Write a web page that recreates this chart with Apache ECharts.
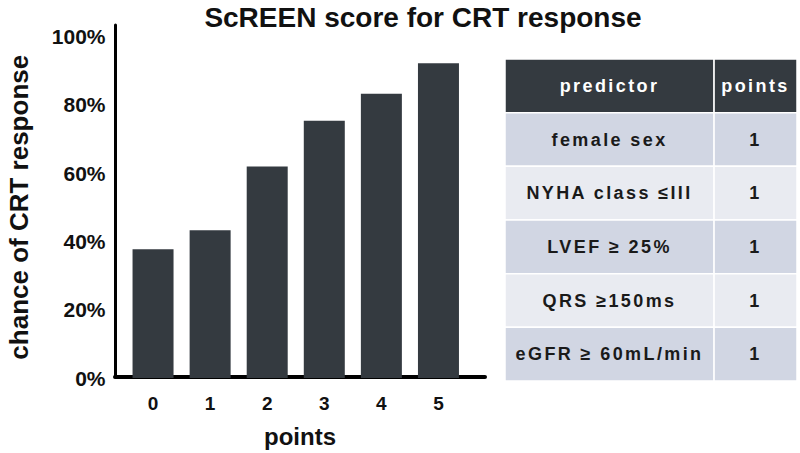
<!DOCTYPE html>
<html>
<head>
<meta charset="utf-8">
<script src="https://cdn.jsdelivr.net/npm/echarts@6/dist/echarts.min.js"></script>
<style>
html,body{margin:0;padding:0;background:#fff;}
#chart{width:800px;height:453px;}
</style>
</head>
<body>
<div id="chart"></div>
<script>
// ---- data ----
var titleText = 'ScREEN score for CRT response';
var categories = ['0', '1', '2', '3', '4', '5'];
var responseRates = [37.7, 43.3, 61.9, 75.3, 83.2, 92.2];
var yTicks = [0, 20, 40, 60, 80, 100];
var xAxisName = 'points';
var yAxisName = 'chance of CRT response';
var tableHeader = ['predictor', 'points'];
var predictors = ['female sex', 'NYHA class \u2264III', 'LVEF \u2265 25%', 'QRS \u2265150ms', 'eGFR \u2265 60mL/min'];
var predictorPoints = [1, 1, 1, 1, 1];

// ---- styles ----
var FONT = "'Liberation Sans', Arial, sans-serif";
var barColor = '#343a40';
var headerColor = '#343a40';
var rowDark = '#d1d6e3';
var rowLight = '#e9ebf1';
var colSplit = 0.716;

var tableRows = [tableHeader].concat(predictors.map(function (p, i) { return [p, String(predictorPoints[i])]; }));

var chart = echarts.init(document.getElementById('chart'), null, { renderer: 'svg' });

var option = {
  animation: false,
  backgroundColor: '#ffffff',
  title: {
    text: titleText,
    left: 418,
    top: -2,
    textAlign: 'center',
    textStyle: { fontFamily: FONT, fontWeight: 'bold', fontSize: 28, color: '#111' }
  },
  grid: [
    { left: 124.5, right: 333, top: 36.5, bottom: 75 },      // bars
    { left: 115, right: 315, top: 25, bottom: 76 },           // axis frame
    { left: 505, right: 3, top: 59, bottom: 72 }              // table
  ],
  xAxis: [
    {
      gridIndex: 0, type: 'category', data: categories,
      axisLine: { show: false }, axisTick: { show: false },
      axisLabel: { fontFamily: FONT, fontWeight: 'bold', fontSize: 19, color: '#111', margin: 16 }
    },
    {
      gridIndex: 1, type: 'value', min: 0, max: 1,
      axisLine: { show: true, lineStyle: { color: '#000', width: 4 } },
      axisTick: { show: false }, axisLabel: { show: false }, splitLine: { show: false },
      name: xAxisName, nameLocation: 'middle', nameGap: 47,
      nameTextStyle: { fontFamily: FONT, fontWeight: 'bold', fontSize: 24, color: '#111' }
    },
    { gridIndex: 2, type: 'value', min: 0, max: 1, show: false }
  ],
  yAxis: [
    {
      gridIndex: 0, type: 'value', min: 0, max: 100, interval: 20,
      axisLine: { show: false }, axisTick: { show: false }, splitLine: { show: false },
      axisLabel: {
        fontFamily: FONT, fontWeight: 'bold', fontSize: 21, color: '#111', margin: 19,
        formatter: function (v) { return yTicks.indexOf(v) >= 0 ? v + '%' : ''; }
      },
      name: yAxisName, nameLocation: 'middle', nameGap: 93, nameRotate: 90,
      nameTextStyle: { fontFamily: FONT, fontWeight: 'bold', fontSize: 26, color: '#111' }
    },
    {
      gridIndex: 1, type: 'value', min: 0, max: 1,
      axisLine: { show: true, lineStyle: { color: '#000', width: 3 } },
      axisTick: { show: false }, axisLabel: { show: false }, splitLine: { show: false }
    },
    {
      gridIndex: 2, type: 'category', inverse: true, show: false,
      data: tableRows.map(function (r, i) { return i; })
    }
  ],
  series: [
    {
      type: 'bar', xAxisIndex: 0, yAxisIndex: 0,
      data: responseRates, barWidth: 41,
      itemStyle: { color: barColor }
    },
    {
      type: 'custom', xAxisIndex: 2, yAxisIndex: 2,
      data: tableRows.map(function (r, i) { return [i]; }),
      renderItem: function (params, api) {
        var idx = api.value(0);
        var c = api.coord([0, idx]);
        var h = api.size([0, 1])[1];
        var x0 = api.coord([0, idx])[0];
        var x1 = api.coord([colSplit, idx])[0];
        var x2 = api.coord([1, idx])[0];
        var y0 = c[1] - h / 2;
        var fill = idx === 0 ? headerColor : (idx % 2 === 1 ? rowDark : rowLight);
        var tcol = idx === 0 ? '#ffffff' : '#1a1a1a';
        var row = tableRows[idx];
        var fs = 18;
        return {
          type: 'group',
          children: [
            { type: 'rect', shape: { x: x0, y: y0, width: x1 - x0, height: h },
              style: { fill: fill, stroke: '#ffffff', lineWidth: 1.5 } },
            { type: 'rect', shape: { x: x1, y: y0, width: x2 - x1, height: h },
              style: { fill: fill, stroke: '#ffffff', lineWidth: 1.5 } },
            { type: 'text', x: (x0 + x1) / 2, y: c[1],
              style: { text: row[0], fill: tcol, font: 'bold ' + fs + 'px ' + FONT,
                       align: 'center', verticalAlign: 'middle' } },
            { type: 'text', x: (x1 + x2) / 2, y: c[1],
              style: { text: row[1], fill: tcol, font: 'bold ' + fs + 'px ' + FONT,
                       align: 'center', verticalAlign: 'middle' } }
          ]
        };
      }
    }
  ]
};
chart.setOption(option);

function applySpacing() {
  var texts = document.querySelectorAll('#chart text');
  texts.forEach(function (t) {
    var r = t.getBoundingClientRect();
    if (r.left > 495 && r.top > 55) { t.setAttribute('letter-spacing', '2.4px'); }
  });
}
applySpacing();
chart.on('finished', applySpacing);
</script>
</body>
</html>
